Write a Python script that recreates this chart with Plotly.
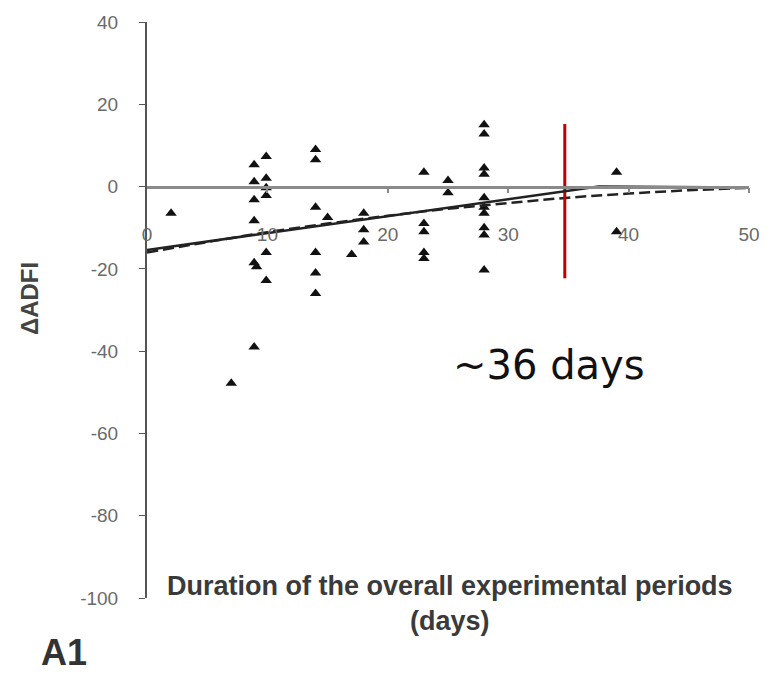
import plotly.graph_objects as go

# Observed points (duration in days, delta ADFI)
pts_x = [2, 7,
         8.9, 8.9, 8.9, 8.9, 8.9, 9.1, 8.9,
         9.9, 9.9, 9.9, 9.9, 9.9, 9.9,
         14, 14, 14, 14, 14, 14,
         15,
         17,
         18, 18, 18,
         23, 23, 23, 23, 23,
         25, 25,
         28, 28, 28, 28, 28, 28, 28, 28, 28, 28,
         39, 39]
pts_y = [-6.5, -47.8,
         5.3, 1.2, -3.2, -8.3, -18.5, -19.5, -39,
         7.3, 2.0, -0.3, -2.2, -16, -22.8,
         9, 6.5, -5, -16, -21, -26,
         -7.5,
         -16.5,
         -6.5, -10.5, -13.5,
         3.5, -9, -11, -16, -17.5,
         1.5, -1.5,
         15, 12.8, 4.5, 3, -2.7, -5, -6.5, -10, -11.8, -20.3,
         3.5, -11]

# Linear-plateau fit (solid)
lin_x = [0, 37.5, 50]
lin_y = [-15.4, 0, -0.2]

# Quadratic fit (dashed), values read at 5-day steps
quad_x = [0, 5, 10, 15, 20, 25, 30, 35, 40, 45, 50]
quad_y = [-16, -13.5, -11.1, -9, -7.1, -5.4, -4, -2.7, -1.7, -0.9, -0.3]

# Red marker of the plateau point
red_x = [34.7, 34.7]
red_y = [15.2, -22.3]

x_ticks = [0, 10, 20, 30, 40, 50]
y_ticks = [40, 20, 0, -20, -40, -60, -80, -100]

tick_font = dict(family="Liberation Sans, Arial", size=19, color="#6a6a6a")

fig = go.Figure()
fig.add_trace(go.Scatter(x=pts_x, y=pts_y, mode="markers",
                         marker=dict(symbol="triangle-up", size=10, color="#111111"),
                         showlegend=False, hoverinfo="skip"))
fig.add_trace(go.Scatter(x=quad_x, y=quad_y, mode="lines", line_shape="spline",
                         line=dict(color="#222222", width=2.5, dash="11px,5px"),
                         showlegend=False, hoverinfo="skip"))
fig.add_trace(go.Scatter(x=lin_x, y=lin_y, mode="lines", xaxis="x2",
                         line=dict(color="#222222", width=2.5),
                         showlegend=False, hoverinfo="skip"))
fig.add_trace(go.Scatter(x=red_x, y=red_y, mode="lines",
                         line=dict(color="#c00000", width=3),
                         showlegend=False, hoverinfo="skip"))

fig.update_layout(
    width=772, height=678,
    margin=dict(l=147, r=20, t=22, b=80),
    paper_bgcolor="white", plot_bgcolor="white",
    xaxis=dict(range=[0, 50], tickvals=x_ticks, ticktext=[str(v) for v in x_ticks],
               showgrid=False, zeroline=False, showline=False, ticks="",
               anchor="free", position=0.655, tickfont=tick_font, fixedrange=True),
    xaxis2=dict(matches="x", overlaying="x", anchor="free", position=100 / 140,
                showgrid=False, zeroline=False, showline=True, linecolor="#8a8a8a",
                linewidth=2.5, ticks="outside", ticklen=5, tickwidth=1.5, tickcolor="#8a8a8a",
                tickvals=x_ticks[1:], showticklabels=False),
    yaxis=dict(range=[-100, 40], tickvals=y_ticks, ticktext=[str(v) for v in y_ticks],
               showgrid=False, zeroline=False, showline=True, linecolor="#555555",
               linewidth=2, ticks="outside", ticklen=6, tickcolor="#555555",
               ticklabelstandoff=17, tickfont=tick_font, fixedrange=True),
    annotations=[
        dict(text="ΔADFI", xref="paper", yref="paper", x=-0.195, y=0.52,
             xanchor="center", yanchor="middle", textangle=-90, showarrow=False,
             font=dict(family="Liberation Sans", size=24, color="#444444", weight="bold")),
        dict(text="Duration of the overall experimental periods<br>(days)",
             xref="paper", yref="paper", x=0.503, y=0.05, xanchor="center", yanchor="top",
             showarrow=False,
             font=dict(family="Liberation Sans", size=27, color="#3a3a3a", weight="bold")),
        dict(text="<b>A1</b>", xref="paper", yref="paper", x=-0.18, y=-0.055,
             xanchor="left", yanchor="top", showarrow=False,
             font=dict(family="Liberation Sans", size=36, color="#333333")),
        dict(text="~36 days", xref="paper", yref="paper", x=0.668, y=0.405,
             xanchor="center", yanchor="middle", showarrow=False,
             font=dict(family="DejaVu Sans", size=40, color="#111111")),
    ],
)

fig.write_html("out.html")
